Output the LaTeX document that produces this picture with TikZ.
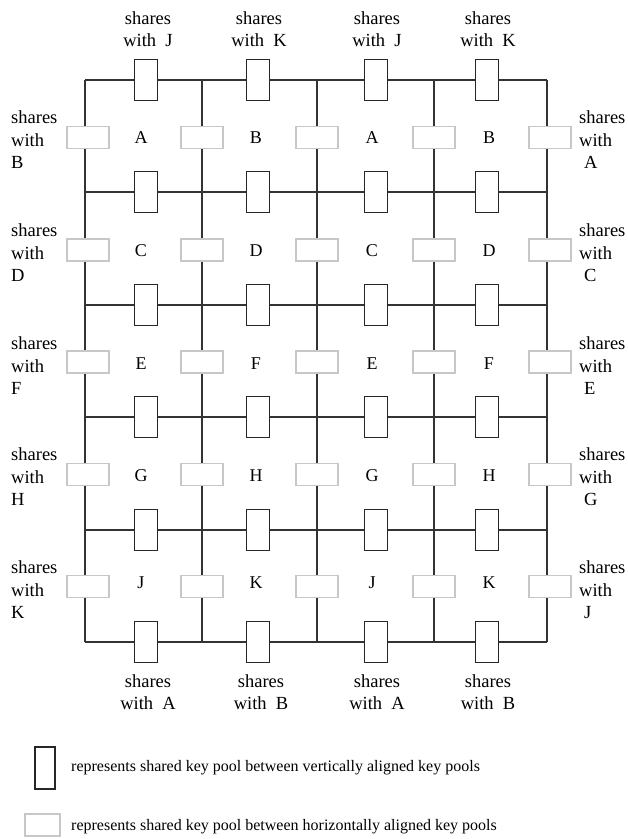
\documentclass[tikz,border=0pt]{standalone}
\usepackage{fontspec}
\setmainfont{Liberation Serif}
\begin{document}
\begin{tikzpicture}[x=1pt,y=-1pt,
  grid/.style={draw=black!80, line width=1.5pt},
  vbox/.style={draw=black!85, fill=white, line width=1.5pt, minimum width=23pt, minimum height=41pt, inner sep=0pt},
  hbox/.style={draw=black!22, fill=white, line width=1.5pt, minimum width=42pt, minimum height=22pt, inner sep=0pt},
  cell/.style={font=\fontsize{18}{22}\selectfont, inner sep=0pt},
  lbl/.style={font=\fontsize{18.5}{22.5}\selectfont, align=center, inner sep=0pt},
  side/.style={font=\fontsize{18.5}{22.5}\selectfont, align=left, inner sep=0pt, anchor=west},
  legtext/.style={font=\fontsize{16}{18}\selectfont, anchor=west, inner sep=0pt}]
\useasboundingbox (0,0) rectangle (628,839);
% grid coordinates
\foreach \i/\x in {0/85,1/202,2/317,3/434,4/547}
  \foreach \j/\y in {0/80,1/192,2/305,3/417,4/530,5/642}
    \coordinate (g\i\j) at (\x,\y);
\foreach \j in {0,...,5} \draw[grid] (g0\j) -- (g4\j);
\foreach \i in {0,...,4} \draw[grid] (g\i0) -- (g\i5);
% vertical boxes on horizontal lines
\foreach \c/\x in {1/146,2/258,3/376,4/487}
  \foreach \j/\y in {0/80,1/192,2/305,3/417,4/530,5/642}
    \node[vbox] (v\c\j) at (\x,\y) {};
% horizontal boxes on vertical lines
\foreach \i/\x in {0/88,1/202,2/317,3/434,4/550}
  \foreach \r/\y in {1/137.5,2/250,3/362,4/474.5,5/586.5}
    \node[hbox] (h\i\r) at (\x,\y) {};
% cell letters
\foreach \r/\y/\a/\b in {1/138/A/B,2/251/C/D,3/364/E/F,4/476/G/H,5/583/J/K}{
  \node[cell] (c1\r) at (141,\y) {\a};
  \node[cell] (c2\r) at (256,\y) {\b};
  \node[cell] (c3\r) at (372,\y) {\a};
  \node[cell] (c4\r) at (489,\y) {\b};
}
% top labels
\foreach \c/\x/\l in {1/148/J,2/259/K,3/377/J,4/488/K}
  \node[lbl] (t\c) at (\x,29) {shares\\with~ \l};
% bottom labels
\foreach \c/\x/\l in {1/148/A,2/261/B,3/377/A,4/488/B}
  \node[lbl] (b\c) at (\x,692) {shares\\with~ \l};
% left labels
\foreach \r/\y/\l in {1/140/B,2/253/D,3/366/F,4/477/H,5/590/K}
  \node[side] (l\r) at (11,\y) {shares\\with\\\l};
% right labels
\foreach \r/\y/\l in {1/140/A,2/253/C,3/366/E,4/477/G,5/590/J}
  \node[side] (r\r) at (579,\y) {shares\\with\\\hspace{5pt}\l};
% legend
\node[vbox, minimum width=20pt, minimum height=42pt] (legv) at (45,768) {};
\node[legtext] (legvt) at (71,768) {represents shared key pool between vertically aligned key pools};
\node[hbox, minimum width=35pt, minimum height=22pt] (legh) at (42.5,825) {};
\node[legtext] (leght) at (71,827) {represents shared key pool between horizontally aligned key pools};
\end{tikzpicture}
\end{document}
